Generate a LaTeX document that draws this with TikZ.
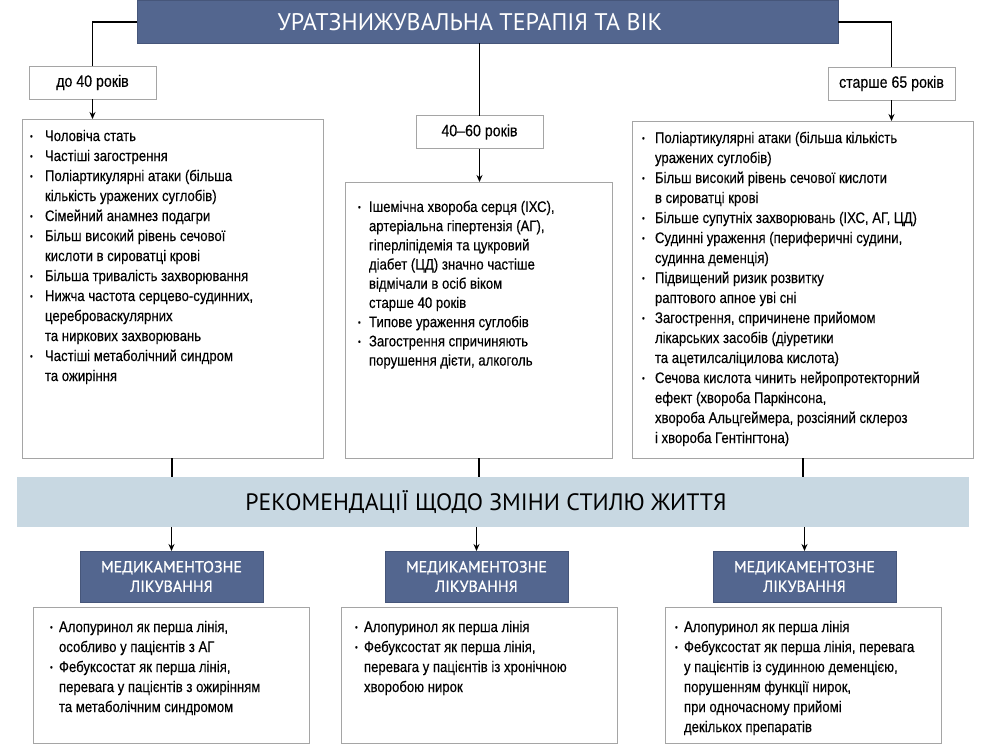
\documentclass[tikz,border=0pt]{standalone}
\usepackage{fontspec}
\usepackage{graphicx}
\setmainfont{Liberation Sans}[FakeStretch=0.86,FakeBold=0.25]
\newfontfamily\headfont{PT Sans}
\newfontfamily\medfont{PT Sans}[FakeBold=0.8]
\usetikzlibrary{arrows.meta}
\definecolor{navy}{RGB}{83,102,143}
\definecolor{navyline}{RGB}{70,86,122}
\definecolor{bandfill}{RGB}{200,216,226}
\definecolor{boxline}{RGB}{165,165,165}
\def\bw{13pt}
\newcommand\bul{\makebox[\bw][l]{\raisebox{1.6pt}{\scalebox{0.6}{•}}}}
\newcommand\ind{\hspace*{\bw}}
\tikzset{
  graybox/.style={draw=boxline, line width=0.8pt, fill=white, anchor=north west, inner sep=0pt, outer sep=0pt},
  agebox/.style={graybox, minimum width=127pt, minimum height=33pt, anchor=center, font=\fontsize{16.5}{19}\selectfont},
  navybox/.style={draw=navyline, line width=0.6pt, fill=navy, text=white, anchor=north west, inner sep=0pt, outer sep=0pt},
  txt/.style={anchor=north west, inner sep=0pt, outer sep=0pt, align=left, font=\fontsize{15.3}{20}\selectfont},
  bw/.code={\def\bw{#1}},
  conn/.style={line width=1.3pt, black},
  arr/.style={conn, -{Stealth[length=7pt,width=6pt]}},
}
\begin{document}
\begin{tikzpicture}[x=1pt,y=-1pt]
\useasboundingbox (0,0) rectangle (986,753);
% title
\node[navybox, minimum width=701pt, minimum height=43pt] (title) at (137,0) {};
\node[text=white, font=\headfont\fontsize{24}{28}\selectfont] (titletxt) at (470,22) {УРАТЗНИЖУВАЛЬНА ТЕРАПІЯ ТА ВІК};
% age labels
\node[agebox] (age1) at (92.5,82.5) {до 40 років};
\node[agebox] (age2) at (479.5,132) {40–60 років};
\node[agebox] (age3) at (891.5,83.5) {старше 65 років};
% top boxes
\node[graybox, minimum width=301pt, minimum height=339pt] (boxL) at (22,119) {};
\node[graybox, minimum width=267pt, minimum height=276pt] (boxM) at (345,182) {};
\node[graybox, minimum width=341pt, minimum height=337pt] (boxR) at (632,121) {};
\node[txt, bw=15pt] (txtL) at (30,127) {\strut\bul Чоловіча стать\\
\bul Частіші загострення\\
\bul Поліартикулярні атаки (більша\\
\ind кількість уражених суглобів)\\
\bul Сімейний анамнез подагри\\
\bul Більш високий рівень сечової\\
\ind кислоти в сироватці крові\\
\bul Більша тривалість захворювання\\
\bul Нижча частота серцево-судинних,\\
\ind цереброваскулярних\\
\ind та ниркових захворювань\\
\bul Частіші метаболічний синдром\\
\ind та ожиріння};
\node[txt, bw=11pt, font=\fontsize{15.3}{19.2}\selectfont] (txtM) at (358,198.5) {\strut\bul Ішемічна хвороба серця (ІХС),\\
\ind артеріальна гіпертензія (АГ),\\
\ind гіперліпідемія та цукровий\\
\ind діабет (ЦД) значно частіше\\
\ind відмічали в осіб віком\\
\ind старше 40 років\\
\bul Типове ураження суглобів\\
\bul Загострення спричиняють\\
\ind порушення дієти, алкоголь};
\node[txt, bw=13pt] (txtR) at (642,129) {\strut\bul Поліартикулярні атаки (більша кількість\\
\ind уражених суглобів)\\
\bul Більш високий рівень сечової кислоти\\
\ind в сироватці крові\\
\bul Більше супутніх захворювань (ІХС, АГ, ЦД)\\
\bul Судинні ураження (периферичні судини,\\
\ind судинна деменція)\\
\bul Підвищений ризик розвитку\\
\ind раптового апное уві сні\\
\bul Загострення, спричинене прийомом\\
\ind лікарських засобів (діуретики\\
\ind та ацетилсаліцилова кислота)\\
\bul Сечова кислота чинить нейропротекторний\\
\ind ефект (хвороба Паркінсона,\\
\ind хвороба Альцгеймера, розсіяний склероз\\
\ind і хвороба Гентінгтона)};
% band
\node[anchor=north west, fill=bandfill, inner sep=0pt, outer sep=0pt, minimum width=952pt, minimum height=50pt] (band) at (17,477) {};
\node[font=\headfont\fontsize{23.7}{28}\selectfont] (bandtxt) at (486,502) {РЕКОМЕНДАЦІЇ ЩОДО ЗМІНИ СТИЛЮ ЖИТТЯ};
% med boxes
\node[navybox, minimum width=183pt, minimum height=51pt] (medL) at (80,551) {};
\node[navybox, minimum width=183pt, minimum height=51pt] (medM) at (385,551) {};
\node[navybox, minimum width=183pt, minimum height=51pt] (medR) at (713,551) {};
\foreach \n/\x in {medLt/171.5, medMt/476.5, medRt/804.5}
  \node[text=white, align=center, font=\medfont\fontsize{16}{19.5}\selectfont] (\n) at (\x,576.5) {МЕДИКАМЕНТОЗНЕ\\ЛІКУВАННЯ};
% bottom boxes
\node[graybox, minimum width=276pt, minimum height=136pt] (botL) at (33,607) {};
\node[graybox, minimum width=276pt, minimum height=136pt] (botM) at (341,607) {};
\node[graybox, minimum width=276pt, minimum height=136pt] (botR) at (665,607) {};
\node[txt, bw=9pt] (btxtL) at (50,618) {\strut\bul Алопуринол як перша лінія,\\
\ind особливо у пацієнтів з АГ\\
\bul Фебуксостат як перша лінія,\\
\ind перевага у пацієнтів з ожирінням\\
\ind та метаболічним синдромом};
\node[txt, bw=9pt] (btxtM) at (355,618) {\strut\bul Алопуринол як перша лінія\\
\bul Фебуксостат як перша лінія,\\
\ind перевага у пацієнтів із хронічною\\
\ind хворобою нирок};
\node[txt, bw=9pt] (btxtR) at (675,618) {\strut\bul Алопуринол як перша лінія\\
\bul Фебуксостат як перша лінія, перевага\\
\ind у пацієнтів із судинною деменцією,\\
\ind порушенням функції нирок,\\
\ind при одночасному прийомі\\
\ind декількох препаратів};
% connectors
\draw[conn] (title.west |- 0,22) -| (age1.north);
\draw[conn] (title.east |- 0,22) -| (age3.north);
\draw[conn] (title.south -| age2.north) -- (age2.north);
\draw[arr] (age1.south) -- (age1.south |- boxL.north);
\draw[arr] (age2.south) -- (age2.south |- boxM.north);
\draw[arr] (age3.south) -- (age3.south |- boxR.north);
\coordinate (cL) at (172,0);
\coordinate (cM) at (479,0);
\coordinate (cR) at (803,0);
\draw[conn] (boxL.south -| cL) -- (band.north -| cL);
\draw[conn] (boxM.south -| cM) -- (band.north -| cM);
\draw[conn] (boxR.south -| cR) -- (band.north -| cR);
\draw[arr] (band.south -| medL.north) -- (medL.north);
\draw[arr] (band.south -| medM.north) -- (medM.north);
\draw[arr] (band.south -| medR.north) -- (medR.north);
\end{tikzpicture}
\end{document}
